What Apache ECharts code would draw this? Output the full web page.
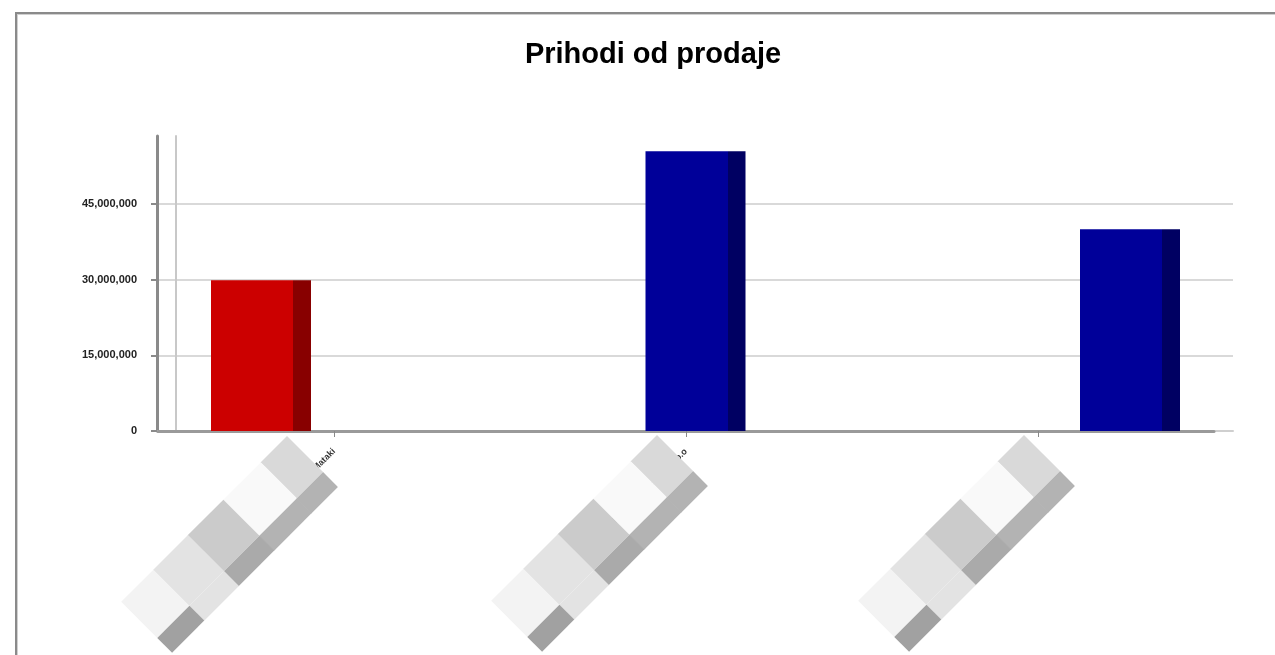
<!DOCTYPE html>
<html><head><meta charset="utf-8">
<script src="https://cdn.jsdelivr.net/npm/echarts@6/dist/echarts.min.js"></script>
<style>
html,body{margin:0;padding:0;background:#fff;}
#c{width:1275px;height:655px;}
#frame{position:absolute;left:15px;top:12px;width:1300px;height:700px;border-top:2px solid #8a8a8a;border-left:2px solid #8a8a8a;box-shadow:inset 1px 1px 0 #d0d0d0;pointer-events:none;}
</style></head><body>
<div id="c"></div><div id="frame"></div>
<script>
// ---- data ----
const categories = ["Obrt Mataki", "Poduzeće Komerc d.o.o", "Trgovina Lipa d.d."];
const revenues = [29900000, 55500000, 40000000];
const yTickStep = 15000000;
const yMax = 58500000;
const barColors = [["#cc0000", "#880000"], ["#000099", "#000062"], ["#000099", "#000062"]];

const chart = echarts.init(document.getElementById('c'), null, {renderer: 'canvas'});

function grad(c) {
  return new echarts.graphic.LinearGradient(0, 0, 1, 0, [
    {offset: 0, color: c[0]}, {offset: 0.82, color: c[0]},
    {offset: 0.82, color: c[1]}, {offset: 1, color: c[1]}
  ]);
}

const fmt = v => v.toLocaleString('en-US');

// mosaic blocks covering the x labels (as in the reference)
const cellLen = [37, 53, 50, 49, 45];
const upperCols = ["#d9d9d9", "#f9f9f9", "#cbcbcb", "#e3e3e3", "#f3f3f3"];
const lowerCols = ["#b3b3b3", "#b3b3b3", "#aaaaaa", "#e3e3e3", "#a1a1a1"];
const blockOrigins = [[287, 436], [657, 435], [1024, 435]];
function block(o) {
  const children = [];
  let y = 0;
  for (let i = 0; i < cellLen.length; i++) {
    children.push({type: 'rect', zlevel: 1, z: 100, shape: {x: 0, y: y, width: 51, height: cellLen[i] + 0.5}, style: {fill: upperCols[i]}});
    children.push({type: 'rect', zlevel: 1, z: 100, shape: {x: 51, y: y, width: 21, height: cellLen[i] + 0.5}, style: {fill: lowerCols[i]}});
    y += cellLen[i];
  }
  return {type: 'group', x: o[0], y: o[1], rotation: -Math.PI / 4, zlevel: 1, z: 100, children};
}

const option = {
  backgroundColor: '#ffffff',
  animation: false,
  title: {
    text: 'Prihodi od prodaje', left: 648, top: 35, textAlign: 'center',
    textStyle: {fontFamily: 'Liberation Sans, Arial, sans-serif', fontWeight: 'bold', fontSize: 29, color: '#000'}
  },
  grid: [
    {left: 157, right: 42, top: 136, bottom: 224, containLabel: false},
    {left: 158, right: 61, top: 136, bottom: 224, containLabel: false},
    {left: 261, right: 145, top: 136, bottom: 224, containLabel: false},
    {left: 176, right: 42, top: 136, bottom: 224, containLabel: false}
  ],
  xAxis: [
    {gridIndex: 0, type: 'category', data: categories, axisLabel: {show: false}, axisTick: {show: false},
     axisLine: {lineStyle: {color: '#cfcfcf', width: 2}}},
    {gridIndex: 1, type: 'category', data: categories,
     axisLine: {lineStyle: {color: '#9a9a9a', width: 3}},
     axisTick: {show: true, alignWithLabel: true, length: 6, lineStyle: {color: '#888', width: 1}},
     axisLabel: {rotate: 45, margin: 19, fontSize: 9, fontWeight: 'bold', color: '#333', fontFamily: 'Liberation Sans, Arial, sans-serif'}},
    {gridIndex: 2, type: 'category', data: categories, boundaryGap: false, show: false},
    {gridIndex: 3, type: 'category', data: categories, show: false}
  ],
  yAxis: [
    {gridIndex: 0, type: 'value', min: 0, max: yMax, interval: yTickStep,
     axisLine: {show: true, lineStyle: {color: '#8a8a8a', width: 3}},
     axisTick: {show: true, length: 6, lineStyle: {color: '#8a8a8a', width: 2}},
     axisLabel: {formatter: fmt, showMaxLabel: false, margin: 20, fontSize: 11, fontWeight: 'bold', color: '#222',
                 fontFamily: 'Liberation Sans, Arial, sans-serif'},
     splitLine: {show: true, showMaxLine: false, lineStyle: {color: '#d9d9d9', width: 2}}},
    {gridIndex: 1, type: 'value', min: 0, max: yMax, interval: yTickStep, show: false, splitLine: {show: false}},
    {gridIndex: 2, type: 'value', min: 0, max: yMax, interval: yTickStep, show: false, splitLine: {show: false}},
    {gridIndex: 3, type: 'value', min: 0, max: yMax, interval: yTickStep, splitLine: {show: false},
     axisLine: {show: true, lineStyle: {color: '#c8c8c8', width: 2}}, axisTick: {show: false}, axisLabel: {show: false}}
  ],
  series: [{
    type: 'bar', xAxisIndex: 2, yAxisIndex: 2, barWidth: 100,
    data: revenues.map((v, i) => ({value: v, itemStyle: {color: grad(barColors[i])}}))
  }],
  graphic: {elements: blockOrigins.map(block)}
};
chart.setOption(option);
</script>
</body></html>
